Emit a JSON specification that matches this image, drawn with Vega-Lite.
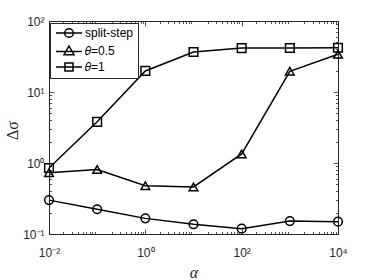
{
  "$schema": "https://vega.github.io/schema/vega-lite/v6.json",
  "width": 289,
  "height": 213,
  "autosize": {"type": "none"},
  "padding": {"left": 49, "top": 21, "right": 36, "bottom": 46},
  "data": {
    "values": [
      {"series": "split-step", "alpha": 0.01, "dsigma": 0.30},
      {"series": "split-step", "alpha": 0.1, "dsigma": 0.223},
      {"series": "split-step", "alpha": 1, "dsigma": 0.166},
      {"series": "split-step", "alpha": 10, "dsigma": 0.137},
      {"series": "split-step", "alpha": 100, "dsigma": 0.119},
      {"series": "split-step", "alpha": 1000, "dsigma": 0.152},
      {"series": "split-step", "alpha": 10000, "dsigma": 0.149},
      {"series": "θ=0.5", "alpha": 0.01, "dsigma": 0.73},
      {"series": "θ=0.5", "alpha": 0.1, "dsigma": 0.81},
      {"series": "θ=0.5", "alpha": 1, "dsigma": 0.48},
      {"series": "θ=0.5", "alpha": 10, "dsigma": 0.46},
      {"series": "θ=0.5", "alpha": 100, "dsigma": 1.34},
      {"series": "θ=0.5", "alpha": 1000, "dsigma": 19.6},
      {"series": "θ=0.5", "alpha": 10000, "dsigma": 34},
      {"series": "θ=1", "alpha": 0.01, "dsigma": 0.85},
      {"series": "θ=1", "alpha": 0.1, "dsigma": 3.8},
      {"series": "θ=1", "alpha": 1, "dsigma": 19.8},
      {"series": "θ=1", "alpha": 10, "dsigma": 36.6},
      {"series": "θ=1", "alpha": 100, "dsigma": 41.5},
      {"series": "θ=1", "alpha": 1000, "dsigma": 41.7},
      {"series": "θ=1", "alpha": 10000, "dsigma": 42}
    ]
  },
  "config": {
    "view": {"stroke": "#262626", "strokeWidth": 1},
    "axis": {
      "labelFont": "Liberation Sans",
      "labelFontSize": 12,
      "labelColor": "#262626",
      "tickColor": "#262626",
      "tickWidth": 0.8,
      "domain": false,
      "grid": false
    },
    "legend": {
      "orient": "none",
      "legendX": 1,
      "legendY": 2,
      "padding": 4,
      "strokeColor": "#262626",
      "fillColor": "white",
      "labelFont": "Liberation Sans",
      "labelFontSize": 12,
      "labelColor": "black",
      "symbolSize": 100,
      "symbolOffset": 9,
      "labelOffset": 10,
      "rowPadding": 2,
      "symbolStrokeWidth": 1.5,
      "symbolStrokeColor": "black",
      "symbolFillColor": "transparent",
      "symbolOpacity": 1
    }
  },
  "layer": [
    {
      "mark": {"type": "line", "color": "black", "strokeWidth": 1.5},
      "encoding": {
        "x": {
          "field": "alpha", "type": "quantitative",
          "scale": {"type": "log", "domain": [0.01, 10000]},
          "axis": {
            "orient": "bottom",
            "values": [0.01, 1, 100, 10000],
            "labelExpr": "datum.value < 0.05 ? '10⁻²' : datum.value < 5 ? '10⁰' : datum.value < 500 ? '10²' : '10⁴'",
            "tickSize": -5,
            "labelPadding": 18,
            "labelFlush": false,
            "title": "α",
            "titleFont": "Liberation Serif",
            "titleFontStyle": "italic",
            "titleFontSize": 16,
            "titleFontWeight": "normal",
            "titleColor": "#262626",
            "titleY": 43,
            "titleBaseline": "alphabetic"
          }
        },
        "y": {
          "field": "dsigma", "type": "quantitative",
          "scale": {"type": "log", "domain": [0.1, 100]},
          "axis": {
            "orient": "left",
            "values": [0.1, 1, 10, 100],
            "labelExpr": "datum.value < 0.5 ? '10⁻¹' : datum.value < 5 ? '10⁰' : datum.value < 50 ? '10¹' : '10²'",
            "tickSize": -5,
            "labelPadding": 10,
            "labelFlush": false,
            "title": "Δσ",
            "titleFont": "Liberation Serif",
            "titleFontSize": 16,
            "titleFontWeight": "normal",
            "titleColor": "#262626",
            "titleAngle": 270,
            "titleX": -32,
            "titleY": 109,
            "titleBaseline": "alphabetic"
          }
        },
        "detail": {"field": "series"}
      }
    },
    {
      "mark": {"type": "point", "filled": false, "color": "black", "strokeWidth": 1.5, "size": 75, "opacity": 1},
      "encoding": {
        "x": {
          "field": "alpha", "type": "quantitative",
          "scale": {"type": "log", "domain": [0.01, 10000]},
          "axis": {
            "orient": "bottom",
            "values": [0.02, 0.03, 0.04, 0.05, 0.06, 0.07, 0.08, 0.09, 0.2, 0.3, 0.4, 0.5, 0.6, 0.7, 0.8, 0.9, 2, 3, 4, 5, 6, 7, 8, 9, 20, 30, 40, 50, 60, 70, 80, 90, 200, 300, 400, 500, 600, 700, 800, 900, 2000, 3000, 4000, 5000, 6000, 7000, 8000, 9000],
            "labels": false, "tickSize": -2.5, "title": null
          }
        },
        "y": {
          "field": "dsigma", "type": "quantitative",
          "scale": {"type": "log", "domain": [0.1, 100]},
          "axis": {
            "orient": "left",
            "values": [0.2, 0.3, 0.4, 0.5, 0.6, 0.7, 0.8, 0.9, 2, 3, 4, 5, 6, 7, 8, 9, 20, 30, 40, 50, 60, 70, 80, 90],
            "labels": false, "tickSize": -2.5, "title": null
          }
        },
        "shape": {
          "field": "series", "type": "nominal",
          "scale": {"domain": ["split-step", "θ=0.5", "θ=1"], "range": ["circle", "triangle-up", "square"]},
          "legend": null
        }
      }
    },
    {
      "transform": [{"filter": "false"}],
      "mark": {"type": "point", "filled": false, "color": "black", "strokeWidth": 1.5, "opacity": 1},
      "encoding": {
        "x": {
          "field": "alpha", "type": "quantitative",
          "scale": {"type": "log", "domain": [0.01, 10000]},
          "axis": {
            "orient": "top",
            "values": [0.01, 1, 100, 10000],
            "labels": false, "tickSize": -5, "title": null
          }
        },
        "y": {
          "field": "dsigma", "type": "quantitative",
          "scale": {"type": "log", "domain": [0.1, 100]},
          "axis": {
            "orient": "right",
            "values": [0.1, 1, 10, 100],
            "labels": false, "tickSize": -5, "title": null
          }
        },
        "shape": {
          "field": "series", "type": "nominal",
          "scale": {
            "domain": ["split-step", "θ=0.5", "θ=1"],
            "range": [
              "M-2.6,0H2.6M-0.86,0A0.86,0.86 0 1,1 0.86,0A0.86,0.86 0 1,1 -0.86,0Z",
              "M-2.6,0.1H2.6M0,-1L1,0.75L-1,0.75Z",
              "M-2.6,0H2.6M-0.8,-0.8H0.8V0.8H-0.8Z"
            ]
          },
          "legend": {"title": null, "labelExpr": "replace(datum.label, 'θ', '𝜃')"}
        }
      }
    },
    {
      "mark": {"type": "point", "opacity": 0},
      "encoding": {
        "x": {
          "field": "alpha", "type": "quantitative",
          "scale": {"type": "log", "domain": [0.01, 10000]},
          "axis": {
            "orient": "top",
            "values": [0.02, 0.03, 0.04, 0.05, 0.06, 0.07, 0.08, 0.09, 0.2, 0.3, 0.4, 0.5, 0.6, 0.7, 0.8, 0.9, 2, 3, 4, 5, 6, 7, 8, 9, 20, 30, 40, 50, 60, 70, 80, 90, 200, 300, 400, 500, 600, 700, 800, 900, 2000, 3000, 4000, 5000, 6000, 7000, 8000, 9000],
            "labels": false, "tickSize": -2.5, "title": null
          }
        },
        "y": {
          "field": "dsigma", "type": "quantitative",
          "scale": {"type": "log", "domain": [0.1, 100]},
          "axis": {
            "orient": "right",
            "values": [0.2, 0.3, 0.4, 0.5, 0.6, 0.7, 0.8, 0.9, 2, 3, 4, 5, 6, 7, 8, 9, 20, 30, 40, 50, 60, 70, 80, 90],
            "labels": false, "tickSize": -2.5, "title": null
          }
        }
      }
    }
  ],
  "resolve": {
    "scale": {"shape": "independent"},
    "axis": {"x": "independent", "y": "independent"}
  }
}
